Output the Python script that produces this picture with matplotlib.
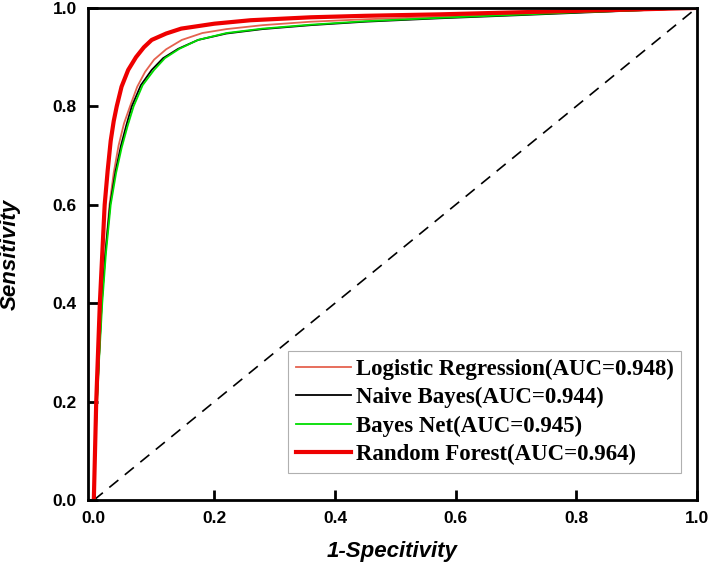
import matplotlib
matplotlib.use("Agg")
import matplotlib.pyplot as plt

# ROC points (FPR, TPR)
lr_fpr = [0, 0.002, 0.005, 0.009, 0.013, 0.019, 0.026, 0.033, 0.041, 0.05, 0.06, 0.072, 0.085, 0.1, 0.12, 0.146, 0.18, 0.22, 0.28, 0.36, 0.45, 0.575, 0.7, 0.8, 0.9, 1.0]
lr_tpr = [0, 0.1, 0.2, 0.3, 0.4, 0.5, 0.6, 0.665, 0.72, 0.765, 0.8, 0.84, 0.87, 0.895, 0.916, 0.935, 0.949, 0.957, 0.965, 0.972, 0.977, 0.982, 0.987, 0.991, 0.995, 1.0]

nb_fpr = [0, 0.002, 0.005, 0.009, 0.013, 0.019, 0.027, 0.036, 0.045, 0.054, 0.063, 0.078, 0.096, 0.115, 0.14, 0.173, 0.22, 0.28, 0.36, 0.45, 0.575, 0.7, 0.8, 0.9, 1.0]
nb_tpr = [0, 0.1, 0.2, 0.3, 0.4, 0.5, 0.6, 0.668, 0.72, 0.762, 0.8, 0.843, 0.874, 0.898, 0.917, 0.935, 0.948, 0.957, 0.965, 0.972, 0.979, 0.985, 0.99, 0.995, 1.0]

bn_fpr = [0, 0.002, 0.005, 0.009, 0.014, 0.02, 0.028, 0.037, 0.046, 0.056, 0.066, 0.081, 0.1, 0.118, 0.142, 0.173, 0.22, 0.28, 0.36, 0.45, 0.575, 0.7, 0.8, 0.9, 1.0]
bn_tpr = [0, 0.09, 0.19, 0.29, 0.4, 0.5, 0.6, 0.665, 0.715, 0.76, 0.8, 0.843, 0.874, 0.898, 0.917, 0.935, 0.949, 0.958, 0.966, 0.973, 0.98, 0.986, 0.991, 0.995, 1.0]

rf_fpr = [0, 0.002, 0.004, 0.007, 0.01, 0.014, 0.018, 0.023, 0.028, 0.033, 0.038, 0.046, 0.057, 0.07, 0.083, 0.096, 0.12, 0.145, 0.2, 0.26, 0.36, 0.45, 0.575, 0.7, 0.8, 0.9, 1.0]
rf_tpr = [0, 0.1, 0.2, 0.3, 0.4, 0.5, 0.6, 0.67, 0.73, 0.77, 0.8, 0.84, 0.874, 0.9, 0.92, 0.935, 0.948, 0.958, 0.968, 0.975, 0.981, 0.984, 0.987, 0.991, 0.994, 0.997, 1.0]

labels = ["Logistic Regression(AUC=0.948)", "Naive Bayes(AUC=0.944)",
          "Bayes Net(AUC=0.945)", "Random Forest(AUC=0.964)"]
ticks = [0.0, 0.2, 0.4, 0.6, 0.8, 1.0]

fig = plt.figure(figsize=(7.08, 5.67), dpi=100)
ax = fig.add_axes([0.124, 0.118, 0.86, 0.868])

ax.plot([0, 1], [0, 1], color="black", lw=1.2, ls=(0, (7, 5)))
ax.plot(lr_fpr, lr_tpr, color="#e5624f", lw=1.3, label=labels[0])
ax.plot(nb_fpr, nb_tpr, color="black", lw=1.3, label=labels[1])
ax.plot(bn_fpr, bn_tpr, color="#00dd00", lw=1.3, label=labels[2])
ax.plot(rf_fpr, rf_tpr, color="#ee0000", lw=3.0, label=labels[3])

ax.set_xlim(-0.01, 1.0)
ax.set_ylim(0, 1.0)
ax.set_xticks(ticks)
ax.set_yticks(ticks)
ax.set_xticklabels(["%.1f" % t for t in ticks])
ax.set_yticklabels(["%.1f" % t for t in ticks])
ax.tick_params(direction="in", length=7, width=2, pad=8, top=False, right=False)
for lab in ax.get_xticklabels() + ax.get_yticklabels():
    lab.set_fontfamily("Liberation Sans")
    lab.set_fontweight("bold")
    lab.set_fontsize(12.5)
for sp in ax.spines.values():
    sp.set_linewidth(2)

ax.set_xlabel("1-Specitivity", fontfamily="Liberation Sans", fontweight="bold",
              fontstyle="italic", fontsize=16)
ax.set_ylabel("Sensitivity", fontfamily="Liberation Sans", fontweight="bold",
              fontstyle="italic", fontsize=16)
ax.xaxis.set_label_coords(0.5, -0.083)
ax.yaxis.set_label_coords(-0.11, 0.5)

leg = ax.legend(loc="lower right", bbox_to_anchor=(0.975, 0.055), borderaxespad=0,
                prop={"family": "Liberation Serif", "weight": "bold", "size": 16.5},
                fancybox=False, edgecolor="#b0b0b0", framealpha=1,
                handlelength=2.4, handletextpad=0.2, labelspacing=0.31,
                borderpad=0.35)
leg.get_frame().set_linewidth(0.8)

fig.savefig("out.png", dpi=100)
